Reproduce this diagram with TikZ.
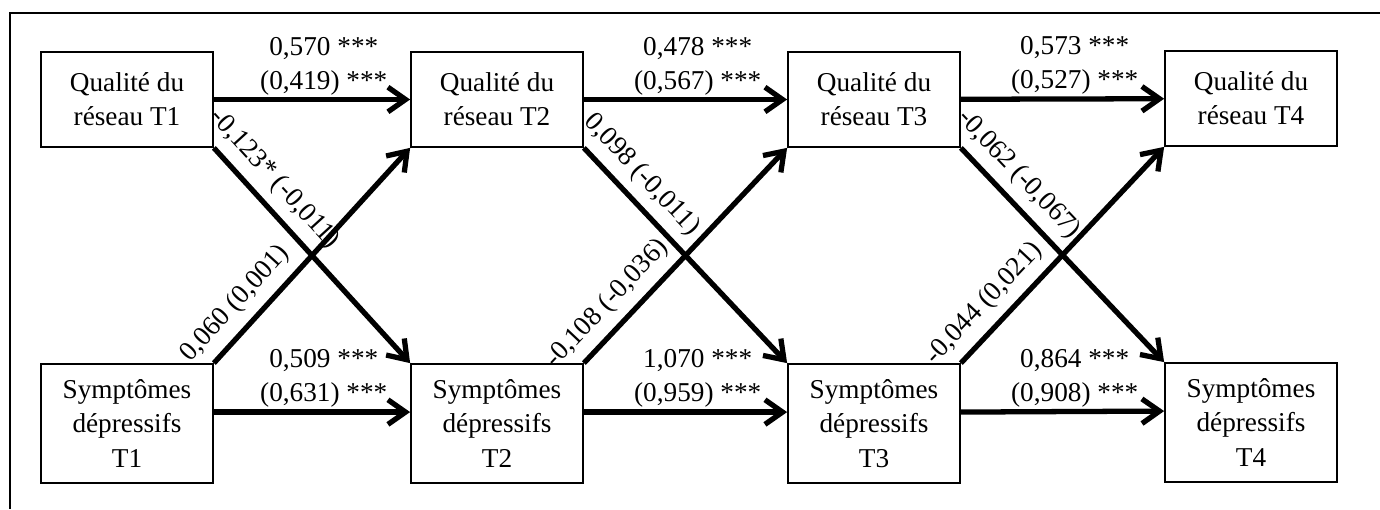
\documentclass[tikz,border=0pt]{standalone}
\usepackage{fontspec}
\setmainfont{Liberation Serif}
\usetikzlibrary{arrows.meta}
\tikzstyle{box}=[draw, line width=1pt, minimum width=3.44cm, inner sep=0pt, align=center, font=\fontsize{15.5}{19.5}\selectfont]
\tikzstyle{qbox}=[box, minimum height=1.9cm]
\tikzstyle{sbox}=[box, minimum height=2.38cm]
\tikzstyle{effect}=[line width=3pt, -{Straight Barb[length=10pt,width=14pt]}]
\tikzstyle{coef}=[font=\fontsize{15.5}{19.5}\selectfont, align=center, inner sep=1pt]

\begin{document}
\begin{tikzpicture}
\useasboundingbox (0,0) rectangle (27.6,10.18);
\coordinate (ftr) at (27.6,9.92);
\coordinate (ftl) at (0.2,9.92);
\coordinate (fbl) at (0.2,0);
\draw[line width=1.2pt] (ftr) -- (ftl) -- (fbl);

\node[qbox] (q1) at (2.54, 8.19) {Qualité du\\réseau T1};
\node[qbox] (q2) at (9.94, 8.19) {Qualité du\\réseau T2};
\node[qbox] (q3) at (17.48, 8.19) {Qualité du\\réseau T3};
\node[qbox] (q4) at (25.02, 8.21) {Qualité du\\réseau T4};
\node[sbox] (s1) at (2.54, 1.71) {Symptômes\\dépressifs\\T1};
\node[sbox] (s2) at (9.94, 1.71) {Symptômes\\dépressifs\\T2};
\node[sbox] (s3) at (17.48, 1.71) {Symptômes\\dépressifs\\T3};
\node[sbox] (s4) at (25.02, 1.73) {Symptômes\\dépressifs\\T4};

\draw[effect] (q1) -- node[coef, above, pos=0.56] {0,570 ***\\(0,419) ***} (q2);
\draw[effect] (q2) -- node[coef, above, pos=0.56] {0,478 ***\\(0,567) ***} (q3);
\draw[effect] (q3) -- node[coef, above, pos=0.56] {0,573 ***\\(0,527) ***} (q4);
\draw[effect] ([yshift=6.5pt]s1.east) -- node[coef, above, pos=0.56] {0,509 ***\\(0,631) ***} ([yshift=6.5pt]s2.west);
\draw[effect] ([yshift=6.5pt]s2.east) -- node[coef, above, pos=0.56] {1,070 ***\\(0,959) ***} ([yshift=6.5pt]s3.west);
\draw[effect] ([yshift=6.5pt]s3.east) -- node[coef, above, pos=0.56] {0,864 ***\\(0,908) ***} ([yshift=6.5pt]s4.west);

\draw[effect] (q1.south east) -- node[coef, sloped, above=4pt, pos=0.22] {-0,123* (-0,011)} (s2.north west);
\draw[effect] (s1.north east) -- node[coef, sloped, above=4pt, pos=0.2] {0,060 (0,001)} (q2.south west);
\draw[effect] (q2.south east) -- node[coef, sloped, above=4pt, pos=0.2] {0,098 (-0,011)} (s3.north west);
\draw[effect] (s2.north east) -- node[coef, sloped, above=4pt, pos=0.2] {-0,108 (-0,036)} (q3.south west);
\draw[effect] (q3.south east) -- node[coef, sloped, above=4pt, pos=0.2] {-0,062 (-0,067)} (s4.north west);
\draw[effect] (s3.north east) -- node[coef, sloped, above=4pt, pos=0.2] {-0,044 (0,021)} (q4.south west);
\end{tikzpicture}
\end{document}
